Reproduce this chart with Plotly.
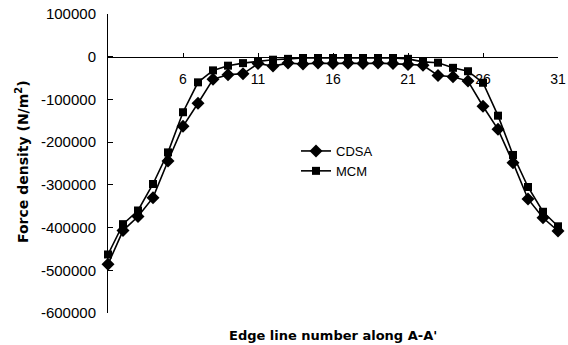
import plotly.graph_objects as go

edge_line = list(range(1, 32))
cdsa = [-486000, -407000, -374000, -330000, -244000, -163000, -109000, -53000, -42000, -40000,
        -16000, -22000, -15000, -17000, -15000, -16000, -15000, -16000, -15000, -16000,
        -18000, -20000, -44000, -47000, -57000, -116000, -170000, -248000, -333000, -377000, -408000]
mcm = [-463000, -392000, -360000, -298000, -224000, -130000, -60000, -32000, -21000, -15000,
       -11000, -7000, -5000, -3000, -3000, -3000, -3000, -3000, -3000, -3000,
       -5000, -12000, -14000, -26000, -34000, -61000, -138000, -230000, -305000, -363000, -397000]
x_tick_vals = [6, 11, 16, 21, 26, 31]
y_tick_vals = [100000, 0, -100000, -200000, -300000, -400000, -500000, -600000]
y_tick_text = ["100000", "0", "-100000", "-200000", "-300000", "-400000", "-500000", "-600000"]

W, H = 568, 345
L, R, T, B = 108, 10, 14, 32
pw, ph = W - L - R, H - T - B


def px(x):
    return (x - L) / pw


def py(y):
    return (H - B - y) / ph


fig = go.Figure()
fig.add_trace(go.Scatter(x=edge_line, y=cdsa, name="CDSA", mode="lines+markers",
                         line=dict(color="black", width=1.6),
                         marker=dict(symbol="diamond", size=10, color="black"),
                         cliponaxis=False))
fig.add_trace(go.Scatter(x=edge_line, y=mcm, name="MCM", mode="lines+markers",
                         line=dict(color="black", width=1.6),
                         marker=dict(symbol="square", size=8, color="black"),
                         cliponaxis=False))

ymin, ymax = -600000, 100000
fig.update_layout(
    width=W, height=H,
    margin=dict(l=L, r=R, t=T, b=B, autoexpand=False),
    paper_bgcolor="white", plot_bgcolor="white",
    font=dict(family="Arial, Liberation Sans", color="black"),
    showlegend=True,
    legend=dict(x=px(296), y=py(136), xanchor="left", yanchor="top",
                font=dict(size=13, family="Arial, Liberation Sans"),
                bgcolor="rgba(0,0,0,0)", itemwidth=30, tracegroupgap=0),
    xaxis=dict(range=[1, 31], tickvals=x_tick_vals, ticks="inside", ticklen=4,
               tickcolor="black", showline=True, linecolor="black", linewidth=1,
               showgrid=False, zeroline=False, anchor="free", automargin=False,
               position=(0 - ymin) / (ymax - ymin),
               tickfont=dict(size=14), ticklabelstandoff=9),
    yaxis=dict(range=[ymin, ymax], tickvals=y_tick_vals, ticktext=y_tick_text,
               ticks="inside", ticklen=5, tickcolor="black", showline=True,
               linecolor="black", linewidth=1, showgrid=False, zeroline=False,
               automargin=False, tickfont=dict(size=15), ticklabelstandoff=8),
    annotations=[
        dict(text="Edge line number along A-A'", xref="paper", yref="paper",
             x=px(333), y=py(335), xanchor="center", yanchor="middle", showarrow=False,
             font=dict(size=13, family="DejaVu Sans", weight="bold")),
        dict(text="Force density (N/m<sup>2</sup>)", xref="paper", yref="paper",
             x=px(22), y=py(162), xanchor="center", yanchor="middle", showarrow=False,
             textangle=-90, font=dict(size=14, family="DejaVu Sans", weight="bold")),
    ],
)

fig.write_html("out.html")
